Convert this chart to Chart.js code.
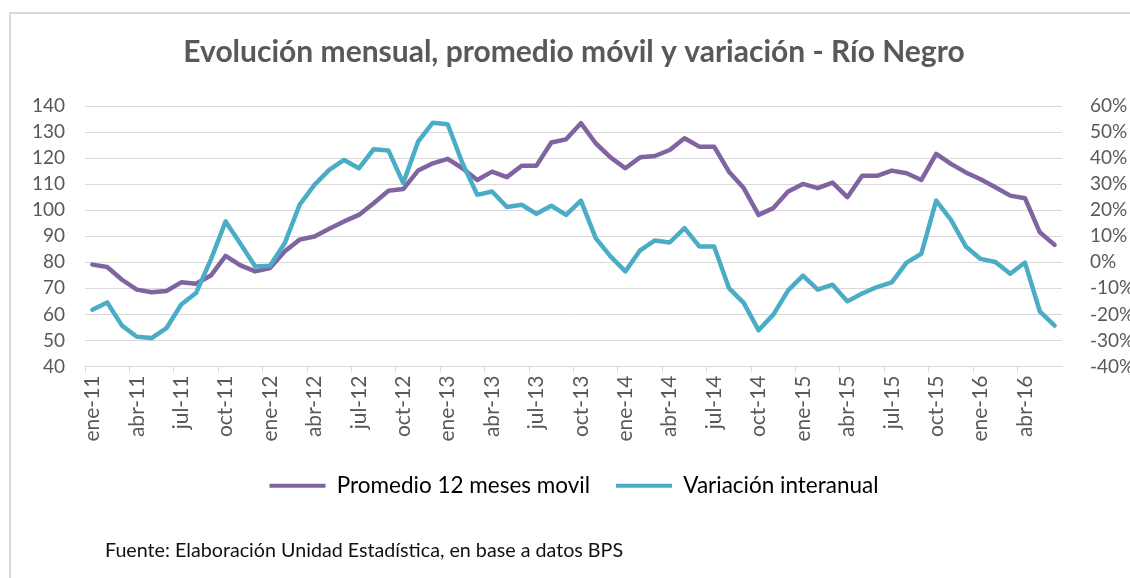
<!DOCTYPE html>
<html lang="es">
<head>
<meta charset="utf-8">
<title>Río Negro</title>
<script src="https://cdn.jsdelivr.net/npm/chart.js@4.4.1/dist/chart.umd.min.js"></script>
<style>
  body { margin: 0; background: #ffffff; }
  #wrap { position: relative; width: 1130px; height: 578px; overflow: hidden; }
  #frame {
    position: absolute; left: 9px; top: 12px; width: 1200px; height: 700px;
    border-left: 2px solid #d9d9d9; border-top: 2px solid #d9d9d9;
  }
  #chart { position: absolute; left: 0; top: 0; }
  #fuente {
    position: absolute; left: 105px; top: 538px;
    font: 19.7px Lato, sans-serif; color: #111111;
  }
</style>
</head>
<body>
<div id="wrap">
  <div id="frame"></div>
  <canvas id="chart" width="1130" height="578"></canvas>
  <div id="fuente">Fuente: Elaboración Unidad Estadística, en base a datos BPS</div>
</div>
<script>
// Months ene-11 .. jun-16
const monthNames = ["ene", "feb", "mar", "abr", "may", "jun", "jul", "ago", "sep", "oct", "nov", "dic"]
const years = ["11", "12", "13", "14", "15", "16"]
const lastYearMonths = 6

const promedio = [
  79.1, 78.2, 73.3, 69.5, 68.5, 69.0, 72.3, 71.8, 74.9, 82.5, 78.8, 76.5,
  77.8, 84.2, 88.7, 89.9, 92.9, 95.7, 98.2, 102.7, 107.5, 108.1, 115.2, 118.0,
  119.7, 116.1, 111.6, 114.8, 112.7, 117.1, 117.1, 126.0, 127.2, 133.4, 125.7, 120.3,
  116.1, 120.3, 120.8, 123.1, 127.6, 124.4, 124.4, 114.8, 108.5, 98.2, 100.8, 107.2,
  110.1, 108.5, 110.6, 105.0, 113.2, 113.2, 115.2, 114.2, 111.6, 121.6, 117.8, 114.5,
  111.9, 108.8, 105.6, 104.6, 91.5, 86.7,
]

const variacion = [
  -18.2, -15.4, -24.3, -28.6, -29.1, -25.3, -16.2, -11.8, 1.0, 15.7, 7.1, -1.6,
  -1.3, 7.4, 22.1, 29.7, 35.5, 39.3, 36.1, 43.4, 42.9, 30.4, 46.3, 53.6,
  53.0, 38.0, 25.9, 27.2, 21.2, 22.1, 18.6, 21.7, 18.2, 23.7, 9.3, 2.3,
  -3.5, 4.6, 8.4, 7.6, 13.1, 6.1, 6.1, -9.9, -15.6, -26.1, -20.1, -10.8,
  -5.1, -10.5, -8.6, -15.0, -12.0, -9.5, -7.7, -0.1, 3.3, 23.7, 16.3, 6.1,
  1.3, 0.1, -4.4, -0.1, -18.8, -24.3,
]

const leftTicks = { min: 40, max: 140, step: 10 }
const rightTicks = { min: -40, max: 60, step: 10 }

const labels = []
years.forEach((y, yi) => {
  const n = yi === years.length - 1 ? lastYearMonths : 12
  for (let m = 0; m < n; m++) labels.push(monthNames[m] + "-" + y)
})

const purple = "#8064a2"
const cyan = "#4bacc6"
const grey = "#595959"
const gridGrey = "#d9d9d9"

new Chart(document.getElementById("chart"), {
  type: "line",
  data: {
    labels: labels,
    datasets: [
      {
        label: "Promedio 12 meses movil",
        data: promedio,
        yAxisID: "y",
        borderColor: purple,
        backgroundColor: purple,
        borderWidth: 4.5,
        pointRadius: 0,
        tension: 0,
        borderCapStyle: "round",
        borderJoinStyle: "round",
        order: 2,
      },
      {
        label: "Variación interanual",
        data: variacion,
        yAxisID: "y1",
        borderColor: cyan,
        backgroundColor: cyan,
        borderWidth: 4.5,
        pointRadius: 0,
        tension: 0,
        borderCapStyle: "round",
        borderJoinStyle: "round",
        order: 1,
      },
    ],
  },
  options: {
    responsive: false,
    animation: false,
    events: [],
    // left padding 18 so title and legend centre near x=574 like the original frame
    layout: { padding: { left: 18, right: 0, top: 0, bottom: 71 } },
    plugins: {
      title: {
        display: true,
        text: "Evolución mensual, promedio móvil y variación - Río Negro",
        color: grey,
        font: { family: "Lato", size: 30, weight: "bold", lineHeight: 1.2 },
        padding: { top: 34, bottom: 36 },
      },
      legend: {
        position: "bottom",
        labels: {
          color: grey,
          font: { family: "Lato", size: 22.5 },
          boxWidth: 56,
          boxHeight: 4,
          padding: 26,
          generateLabels: (chart) =>
            chart.data.datasets.map((ds, i) => ({
              text: ds.label,
              fillStyle: ds.borderColor,
              strokeStyle: ds.borderColor,
              lineWidth: 0,
              datasetIndex: i,
            })),
        },
      },
      tooltip: { enabled: false },
    },
    scales: {
      x: {
        offset: true,
        grid: {
          offset: true,
          drawOnChartArea: false,
          drawTicks: true,
          tickLength: 6,
          color: (ctx) => (ctx.index % 3 === 0 ? gridGrey : "rgba(0,0,0,0)"),
        },
        border: { color: gridGrey, width: 1 },
        ticks: {
          autoSkip: false,
          minRotation: 90,
          maxRotation: 90,
          padding: 3,
          color: grey,
          font: { family: "Lato", size: 21 },
          callback: function (value, index) {
            return index % 3 === 0 ? this.getLabelForValue(value) : ""
          },
        },
        afterFit: (scale) => { scale.height = 82 },
      },
      y: {
        position: "left",
        min: leftTicks.min,
        max: leftTicks.max,
        grid: { color: gridGrey, drawTicks: false },
        border: { display: false },
        ticks: {
          autoSkip: false,
          stepSize: leftTicks.step,
          padding: 20,
          color: grey,
          font: { family: "Lato", size: 19 },
        },
        afterFit: (scale) => { scale.width = 67 },
      },
      y1: {
        position: "right",
        min: rightTicks.min,
        max: rightTicks.max,
        grid: { drawOnChartArea: false, drawTicks: false },
        border: { display: false },
        ticks: {
          autoSkip: false,
          stepSize: rightTicks.step,
          padding: 28,
          color: grey,
          font: { family: "Lato", size: 19 },
          callback: (v) => v + "%",
        },
        afterFit: (scale) => { scale.width = 68 },
      },
    },
  },
})
</script>
</body>
</html>
